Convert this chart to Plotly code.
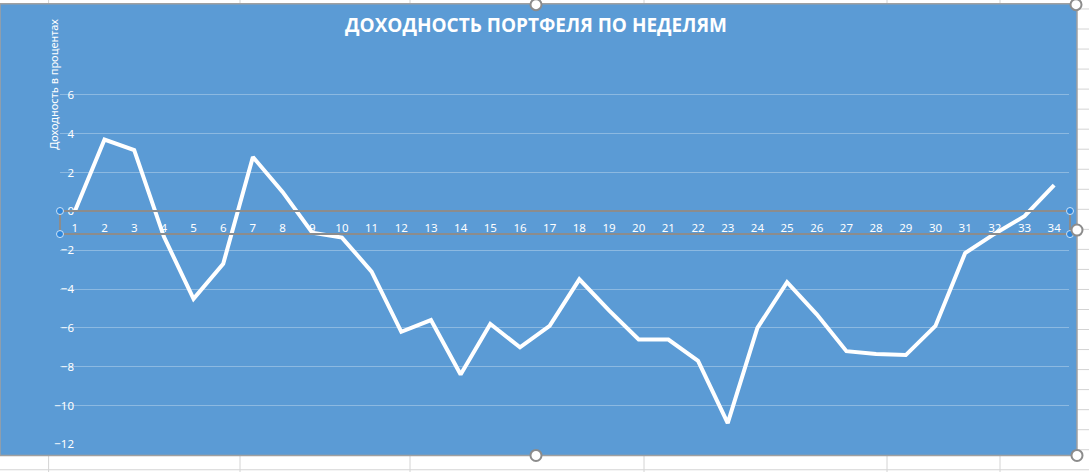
import plotly.graph_objects as go

# weekly portfolio returns, percent
weeks = list(range(1, 35))
returns = [0.0, 3.7, 3.15, -1.3, -4.5, -2.7, 2.8, 1.0, -1.1, -1.35,
           -3.1, -6.2, -5.6, -8.4, -5.8, -7.0, -5.9, -3.5, -5.1, -6.6,
           -6.6, -7.7, -10.9, -6.0, -3.65, -5.3, -7.2, -7.35, -7.4, -5.9,
           -2.15, -1.15, -0.25, 1.35]
y_ticks = [-12, -10, -8, -6, -4, -2, 0, 2, 4, 6]

W, H = 1089, 472
Y0, Y1 = -12.03, 6.3
K = (444 - 95) / 18                      # pixels per percent
L, R = 60, 1069
T = 95 - (Y1 - 6) * K
B = 444 + (-12 - Y0) * K
BLUE = '#5B9BD5'
GRID = 'rgba(255,255,255,0.30)'


def px(x):
    return (x - L) / (R - L)


def py(y):
    return (B - y) / (B - T)


fig = go.Figure()
fig.add_trace(go.Scatter(
    x=weeks, y=returns, mode='lines',
    line=dict(color='white', width=4),
    hoverinfo='skip', showlegend=False))

shapes = []
# worksheet grid behind the chart
for xv in [48.6, 240, 410, 644, 887, 1000]:
    shapes.append(dict(type='line', xref='paper', yref='paper', layer='below',
                       x0=px(xv), x1=px(xv), y0=py(0), y1=py(H),
                       line=dict(color='#D4D4D4', width=1)))
for k in range(24):
    yv = 9.3 + 20 * k
    shapes.append(dict(type='line', xref='paper', yref='paper', layer='below',
                       x0=px(0), x1=px(W), y0=py(yv), y1=py(yv),
                       line=dict(color='#D4D4D4', width=1)))
# chart area
shapes.append(dict(type='rect', xref='paper', yref='paper', layer='below',
                   x0=px(0), x1=px(1077), y0=py(455), y1=py(4),
                   fillcolor=BLUE, line=dict(color='#A0A0A0', width=1.5)))
# selected axis box
shapes.append(dict(type='rect', xref='paper', yref='paper', layer='above',
                   x0=px(60), x1=px(1070), y0=py(234), y1=py(211),
                   line=dict(color='#8C8C8C', width=2)))
for cx, cy in [(60, 211), (60, 234), (1070, 211), (1070, 234)]:
    r = 3.5
    shapes.append(dict(type='circle', xref='paper', yref='paper', layer='above',
                       x0=px(cx - r), x1=px(cx + r), y0=py(cy + r), y1=py(cy - r),
                       fillcolor='#2F86DA', line=dict(color='#CFE4F7', width=1)))
# chart frame handles
for cx, cy in [(536, 5), (1076, 5), (1077, 230), (1077, 455), (536, 455)]:
    r = 5.5
    shapes.append(dict(type='circle', xref='paper', yref='paper', layer='above',
                       x0=px(cx - r), x1=px(cx + r), y0=py(cy + r), y1=py(cy - r),
                       fillcolor='white', line=dict(color='#8C8C8C', width=2)))

fig.update_layout(
    width=W, height=H,
    margin=dict(l=L, r=W - R, t=T, b=H - B),
    paper_bgcolor='white',
    plot_bgcolor='rgba(0,0,0,0)',
    shapes=shapes,
    font=dict(family='Noto Sans, Arial, sans-serif', color='white', size=12),
    annotations=[
        dict(text='<b>ДОХОДНОСТЬ ПОРТФЕЛЯ ПО НЕДЕЛЯМ</b>',
             xref='paper', yref='paper', x=px(536), y=py(25),
             showarrow=False, xanchor='center', yanchor='middle',
             font=dict(family='Open Sans, Arial, sans-serif', size=19, color='white')),
        dict(text='Доходность в процентах',
             xref='paper', yref='paper', x=px(54), y=py(85),
             showarrow=False, textangle=-90, xanchor='center', yanchor='middle',
             font=dict(size=11, color='white')),
    ],
)
fig.update_xaxes(
    range=[0.5, 34.5], tickvals=weeks, ticktext=[str(w) for w in weeks],
    anchor='free', position=py(211), showgrid=False, zeroline=False,
    showline=False, ticks='outside', ticklen=6, tickcolor='rgba(0,0,0,0)',
    tickfont=dict(size=11.5, color='white'))
fig.update_yaxes(
    range=[Y0, Y1], tickvals=y_ticks, showgrid=True, gridcolor=GRID,
    gridwidth=1, zeroline=False, showline=False, ticks='',
    anchor='free', position=px(74),
    tickfont=dict(size=11.5, color='white'))

fig.write_html('out.html', config={'displayModeBar': False},
               post_script="document.body.style.margin='0';")
